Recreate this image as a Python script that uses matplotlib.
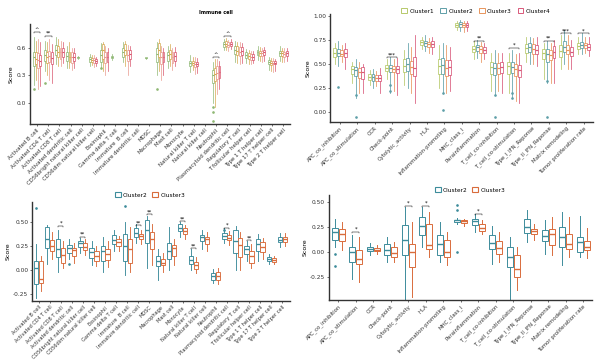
import matplotlib
matplotlib.use("Agg")
import matplotlib.pyplot as plt
from matplotlib.patches import Patch

# ---------------- data ----------------
immune_cells = ["Activated B cell", "Activated CD4 T cell", "Activated CD8 T cell",
                "Activated dendritic cell", "CD56bright natural killer cell",
                "CD56dim natural killer cell", "Eosinophil", "Gamma delta T cell",
                "Immature  B cell", "Immature dendritic cell", "MDSC", "Macrophage",
                "Mast cell", "Monocyte", "Natural killer T cell", "Natural killer cell",
                "Neutrophil", "Plasmacytoid dendritic cell", "Regulatory T cell",
                "T follicular helper cell", "Type 1 T helper cell", "Type 17 T helper cell",
                "Type 2 T helper cell"]
immune_funcs = ["APC_co_inhibition", "APC_co_stimulation", "CCR", "Check-point",
                "Cytolytic_activity", "HLA", "Inflammation-promoting", "MHC_class_I",
                "Parainflammation", "T_cell_co-inhibition", "T_cell_co-stimulation",
                "Type_I_IFN_Reponse", "Type_II_IFN_Reponse", "Matrix remodeling",
                "Tumor proliferation rate"]

# Top-left: 4 clusters x 23 cells, each (q1, med, q3, lo, hi); None = not drawn
tl_c1 = [(.40,.50,.56,.20,.72),(.46,.52,.58,.35,.68),(.52,.58,.63,.42,.72),(.46,.51,.56,.38,.62),
         (.49,.495,.50,.48,.51),(.45,.48,.50,.40,.53),(.45,.52,.58,.38,.65),(.49,.50,.51,.47,.53),
         (.50,.55,.60,.45,.66),None,(.49,.49,.50,.48,.50),(.45,.53,.60,.30,.66),
         (.46,.52,.56,.38,.62),None,(.40,.43,.46,.34,.52),None,
         (.22,.30,.36,.00,.45),(.61,.64,.66,.58,.70),(.53,.58,.62,.45,.68),(.49,.52,.55,.44,.59),
         (.52,.55,.58,.47,.62),(.42,.45,.47,.36,.50),(.51,.54,.57,.46,.62)]
tl_c2 = [(.42,.48,.55,.25,.68),(.44,.50,.56,.30,.66),(.50,.56,.62,.40,.70),(.45,.50,.55,.38,.66),
         None,(.45,.47,.49,.41,.52),(.48,.58,.64,.35,.66),None,
         (.52,.58,.64,.40,.68),None,None,(.50,.58,.65,.35,.70),
         (.48,.53,.58,.40,.64),None,(.41,.44,.46,.36,.50),None,
         (.24,.31,.38,-.05,.48),(.62,.64,.67,.58,.71),(.52,.57,.62,.44,.66),(.48,.51,.54,.42,.58),
         (.51,.54,.57,.46,.61),(.41,.44,.46,.35,.49),(.51,.54,.57,.45,.60)]
tl_c3 = [(.38,.47,.54,.15,.70),(.45,.51,.57,.25,.70),(.48,.55,.60,.40,.68),(.44,.50,.55,.36,.60),
         None,(.44,.47,.49,.39,.52),(.44,.50,.56,.30,.62),None,
         (.46,.52,.58,.30,.63),None,None,(.42,.50,.56,.25,.62),
         (.44,.50,.55,.36,.60),None,(.39,.42,.45,.32,.50),None,
         (.26,.33,.40,.10,.48),(.61,.63,.66,.57,.69),(.51,.56,.61,.42,.66),(.47,.50,.53,.42,.57),
         (.51,.54,.57,.45,.60),(.42,.44,.46,.34,.49),(.50,.53,.56,.45,.60)]
tl_c4 = [(.40,.46,.52,.18,.66),(.42,.49,.55,.22,.64),(.50,.55,.60,.44,.66),(.46,.50,.54,.38,.60),
         None,(.44,.46,.48,.40,.50),(.45,.50,.55,.35,.60),None,
         (.48,.53,.58,.40,.62),None,None,(.45,.50,.55,.30,.60),
         (.46,.51,.56,.40,.61),None,(.40,.42,.45,.33,.49),None,
         (.27,.34,.40,.15,.46),(.62,.64,.66,.59,.70),(.52,.57,.61,.44,.65),(.47,.50,.53,.43,.57),
         (.52,.55,.58,.46,.61),(.42,.44,.46,.35,.48),(.51,.54,.57,.46,.60)]
tl_fliers = {0: [.15], 1: [.22], 16: [-.05, -.10, -.20], 11: [.15], 6: [.38]}
tl_sig = {0: "^", 1: "**", 16: "^", 17: "^"}
tl_sig_y = {0: .77, 1: .73, 16: .50, 17: .73}

# Top-right: 4 clusters x 15 functions
tr_c1 = [(.57,.62,.67,.50,.72),(.40,.45,.48,.30,.52),(.34,.37,.40,.28,.44),(.43,.46,.49,.35,.55),
         (.42,.48,.55,.28,.65),(.70,.73,.75,.66,.78),(.40,.48,.55,.25,.70),(.89,.91,.93,.85,.95),
         (.63,.66,.69,.55,.74),(.40,.47,.52,.22,.62),(.40,.48,.52,.20,.62),(.62,.67,.71,.52,.78),
         (.55,.62,.66,.35,.72),(.57,.64,.70,.45,.80),(.66,.69,.72,.60,.78)]
tr_c2 = [(.58,.62,.66,.48,.74),(.38,.44,.47,.15,.55),(.33,.37,.40,.25,.45),(.42,.46,.49,.20,.57),
         (.43,.50,.56,.25,.72),(.69,.72,.74,.64,.80),(.40,.49,.56,.20,.72),(.89,.92,.94,.84,.96),
         (.64,.68,.70,.56,.75),(.39,.46,.51,.18,.65),(.41,.47,.52,.15,.65),(.63,.68,.72,.50,.78),
         (.52,.60,.66,.30,.74),(.63,.68,.74,.50,.85),(.67,.70,.73,.60,.82)]
tr_c3 = [(.58,.61,.65,.52,.70),(.36,.42,.46,.20,.52),(.33,.36,.39,.27,.43),(.42,.45,.48,.22,.55),
         (.40,.47,.53,.20,.68),(.68,.71,.73,.62,.77),(.38,.46,.54,.20,.70),(.88,.91,.93,.83,.95),
         (.62,.66,.69,.52,.73),(.40,.46,.51,.22,.62),(.38,.45,.50,.12,.60),(.61,.66,.71,.50,.77),
         (.54,.59,.65,.30,.72),(.60,.65,.70,.45,.80),(.67,.70,.72,.62,.78)]
tr_c4 = [(.57,.62,.66,.45,.72),(.35,.42,.47,.20,.50),(.32,.36,.39,.20,.46),(.41,.45,.48,.18,.56),
         (.38,.46,.57,.10,.80),(.68,.71,.74,.61,.78),(.39,.47,.54,.22,.68),(.88,.91,.93,.84,.95),
         (.62,.65,.68,.55,.72),(.41,.47,.52,.20,.62),(.37,.44,.49,.10,.62),(.60,.65,.70,.48,.78),
         (.56,.63,.69,.30,.75),(.58,.63,.68,.45,.75),(.65,.68,.71,.58,.78)]
tr_fliers = {1: [-.05, .18], 3: [.22, .28], 6: [.02, .20], 9: [-.05, .18], 10: [.15, .20],
             12: [-.05, .32], 0: [.26]}
tr_sig = {3: "***", 8: "**", 10: "*", 12: "**", 13: "***", 14: "*"}
tr_sig_y = {3: .57, 8: .74, 10: .67, 12: .74, 13: .82, 14: .82}

# Bottom-left: Cluster2 / Cluster3 x 23 cells
bl_c2 = [(-.14,.02,.10,-.29,.27),(.23,.33,.45,.07,.47),(.14,.22,.33,-.02,.42),(.18,.23,.26,.12,.32),
         (.24,.28,.30,.18,.34),(.13,.19,.23,.05,.30),(.10,.20,.25,-.02,.35),(.27,.31,.37,.20,.42),
         (.10,.25,.38,-.05,.50),(.35,.39,.44,.28,.48),(.28,.42,.52,.02,.56),(.04,.10,.15,-.10,.22),
         (.12,.20,.28,.00,.45),(.41,.44,.48,.35,.50),(.07,.11,.15,.00,.22),(.30,.35,.37,.22,.42),
         (-.10,-.06,-.03,-.13,.01),(.33,.36,.39,.28,.44),(.18,.30,.42,.00,.46),(.17,.22,.25,.10,.30),
         (.20,.27,.32,.10,.38),(.10,.12,.14,.07,.17),(.29,.31,.35,.24,.39)]
bl_c3 = [(-.13,-.09,.10,-.22,.15),(.20,.25,.31,.12,.40),(.08,.16,.23,.02,.30),(.15,.21,.23,.08,.28),
         (.21,.24,.28,.16,.32),(.10,.15,.20,.04,.25),(.11,.17,.22,.03,.30),(.25,.29,.32,.20,.36),
         (.08,.22,.33,-.02,.45),(.32,.36,.38,.27,.42),(.22,.33,.40,.05,.48),(.05,.08,.12,-.02,.18),
         (.15,.23,.26,.05,.32),(.38,.41,.44,.33,.47),(.01,.05,.09,-.03,.14),(.27,.32,.35,.20,.40),
         (-.10,-.06,-.02,-.14,.02),(.31,.34,.37,.26,.41),(.14,.26,.34,.00,.40),(.08,.15,.20,.02,.27),
         (.19,.24,.29,.12,.34),(.09,.11,.13,.06,.15),(.29,.33,.35,.25,.39)]
bl_fliers = {0: [.65], 8: [.67], 3: [.07], 17: [.42]}
bl_sig = {2: "*", 4: "**", 9: "**", 10: "**", 13: "**", 14: "**", 17: "*", 19: "**"}
bl_sig_y = {2: .46, 4: .35, 9: .47, 10: .58, 13: .51, 14: .23, 17: .44, 19: .31}

# Bottom-right: Cluster2 / Cluster3 x 15 functions
br_c2 = [(.12,.20,.24,.05,.33),(-.10,.00,.05,-.27,.17),(.01,.03,.05,-.03,.09),(-.03,.02,.08,-.10,.15),
         (-.03,.12,.27,-.48,.45),(.17,.26,.35,.05,.45),(-.03,.08,.17,-.10,.30),(.30,.32,.32,.28,.34),
         (.27,.31,.33,.20,.38),(.03,.09,.17,-.12,.26),(-.15,-.05,.05,-.48,.15),(.19,.25,.33,.10,.42),
         (.11,.16,.22,-.02,.32),(.05,.15,.25,-.13,.40),(.00,.10,.15,-.05,.36)]
br_c3 = [(.11,.18,.23,.02,.30),(-.12,-.07,.02,-.30,.15),(.01,.02,.04,-.02,.07),(-.05,-.01,.05,-.10,.10),
         (-.15,.00,.08,-.45,.30),(.03,.07,.28,-.05,.40),(-.05,.00,.12,-.13,.20),(.29,.31,.32,.26,.33),
         (.21,.24,.28,.18,.32),(-.02,.04,.11,-.10,.20),(-.25,-.17,-.03,-.38,.05),(.18,.21,.23,.12,.28),
         (.07,.18,.23,-.03,.35),(.03,.08,.18,-.05,.35),(.02,.05,.11,-.06,.24)]
br_fliers = {0: [-.02, -.14], 7: [.47, .42, .00]}
br_sig = {1: "*", 4: "*", 5: "*", 8: "*"}
br_sig_y = {1: .20, 4: .46, 5: .46, 8: .38}

# ---------------- drawing ----------------
W, H = 600, 364
fig = plt.figure(figsize=(6.0, 3.64), dpi=100)
plt.rcParams['font.family'] = ['DejaVu Sans']

def ax_at(l, r, t, b):
    return fig.add_axes([l / W, 1 - b / H, (r - l) / W, (b - t) / H])

def draw(ax, series, colors, offsets, width, fliers_map=None, flier_series=0, lw=0.6):
    for s, (vals, col, off) in enumerate(zip(series, colors, offsets)):
        stats, pos = [], []
        for i, v in enumerate(vals):
            if v is None:
                continue
            q1, med, q3, lo, hi = v
            fl = []
            if fliers_map and s == flier_series and i in fliers_map:
                fl = fliers_map[i]
            stats.append(dict(q1=q1, med=med, q3=q3, whislo=lo, whishi=hi, fliers=fl))
            pos.append(i + off)
        ax.bxp(stats, positions=pos, widths=width, showfliers=True, manage_ticks=False,
               patch_artist=True,
               boxprops=dict(facecolor="white", edgecolor=col, linewidth=lw),
               medianprops=dict(color=col, linewidth=lw + 0.3),
               whiskerprops=dict(color=col, linewidth=lw),
               capprops=dict(linewidth=0),
               flierprops=dict(marker='o', markersize=0.9, markerfacecolor=col,
                               markeredgecolor=col, linestyle='none'))

def style(ax, labels, yticks, ylim, xlim, ytl, xfs=3.9):
    ax.set_xlim(*xlim)
    ax.set_ylim(*ylim)
    ax.set_xticks(range(len(labels)))
    ax.set_xticklabels(labels, rotation=45, ha='right', rotation_mode='anchor', fontsize=xfs)
    ax.set_yticks(yticks)
    ax.set_yticklabels(ytl, fontsize=4.2)
    for sp in ['top', 'right']:
        ax.spines[sp].set_visible(False)
    for sp in ['left', 'bottom']:
        ax.spines[sp].set_linewidth(1.0)
        ax.spines[sp].set_color('#333333')
    ax.tick_params(axis='both', length=1.5, width=0.5, pad=1.2, colors='#333333')
    ax.set_ylabel("Score", fontsize=4.5, labelpad=2)

def sig(ax, sig_map, y_map, n_off, fs=4.0):
    for i, t in sig_map.items():
        y = y_map[i]
        ax.plot([i - n_off, i - n_off, i + n_off, i + n_off], [y - .01, y, y, y - .01],
                color='black', lw=0.35)
        ax.text(i, y, t, ha='center', va='bottom', fontsize=fs)

# TL
tl_cols = ["#8FB874", "#D6A84E", "#E99A8E", "#D9566E"]
ax1 = ax_at(30, 290, 24, 124)
draw(ax1, [tl_c1, tl_c2, tl_c3, tl_c4], tl_cols, [-.3, -.1, .1, .3], 0.17, tl_fliers, 0, lw=0.5)
style(ax1, immune_cells, [0.0, 0.3, 0.6], (-0.23, 0.86), (-0.625, 22.6), ["0.0", "0.3", "0.6"])
sig(ax1, tl_sig, tl_sig_y, 0.3, fs=3.8)
fig.text(216 / W, 1 - 13 / H, "Immune cell", fontsize=3.5, ha='center', va='center', weight='bold')

# TR
tr_cols = ["#B6C96A", "#5E9FA8", "#E8955C", "#D9587A"]
ax2 = ax_at(330, 593, 14, 122)
draw(ax2, [tr_c1, tr_c2, tr_c3, tr_c4], tr_cols, [-.3, -.1, .1, .3], 0.17, tr_fliers, 1, lw=0.55)
style(ax2, immune_funcs, [0, .25, .5, .75, 1.0], (-0.10, 1.02), (-0.57, 14.54),
      ["0.00", "0.25", "0.50", "0.75", "1.00"])
sig(ax2, tr_sig, tr_sig_y, 0.3, fs=3.8)
handles = [Patch(facecolor='white', edgecolor=c, linewidth=0.7) for c in tr_cols]
fig.legend(handles, ["Cluster1", "Cluster2", "Cluster3", "Cluster4"], loc='center',
           bbox_to_anchor=(476 / W, 1 - 11 / H), ncol=4, frameon=False, fontsize=4.2,
           handlelength=1.0, handleheight=0.9, handletextpad=0.4, columnspacing=1.0)

# BL
two_cols = ["#3D8C9B", "#D96C3C"]
ax3 = ax_at(32, 290, 202, 301)
draw(ax3, [bl_c2, bl_c3], two_cols, [-.22, .22], 0.38, bl_fliers, 0, lw=0.65)
style(ax3, immune_cells, [-.25, 0, .25, .5], (-0.32, 0.71), (-0.6, 22.7),
      ["-0.25", "0.00", "0.25", "0.50"], xfs=3.6)
sig(ax3, bl_sig, bl_sig_y, 0.22, fs=3.8)
h2 = [Patch(facecolor='white', edgecolor=c, linewidth=0.8) for c in two_cols]
fig.legend(h2, ["Cluster2", "Cluster3"], loc='center', bbox_to_anchor=(150 / W, 1 - 195 / H),
           ncol=2, frameon=False, fontsize=4.2, handlelength=1.0, handleheight=0.9,
           handletextpad=0.4, columnspacing=0.8)

# BR
ax4 = ax_at(329, 592, 195, 300)
draw(ax4, [br_c2, br_c3], two_cols, [-.2, .2], 0.34, br_fliers, 0, lw=0.7)
style(ax4, immune_funcs, [-.25, 0, .25, .5], (-0.48, 0.57), (-0.53, 14.5),
      ["-0.25", "0.00", "0.25", "0.50"])
sig(ax4, br_sig, br_sig_y, 0.2, fs=3.8)
fig.legend(h2, ["Cluster2", "Cluster3"], loc='center', bbox_to_anchor=(470 / W, 1 - 190 / H),
           ncol=2, frameon=False, fontsize=4.2, handlelength=1.0, handleheight=0.9,
           handletextpad=0.4, columnspacing=0.8)

fig.savefig("out.png", dpi=100)
